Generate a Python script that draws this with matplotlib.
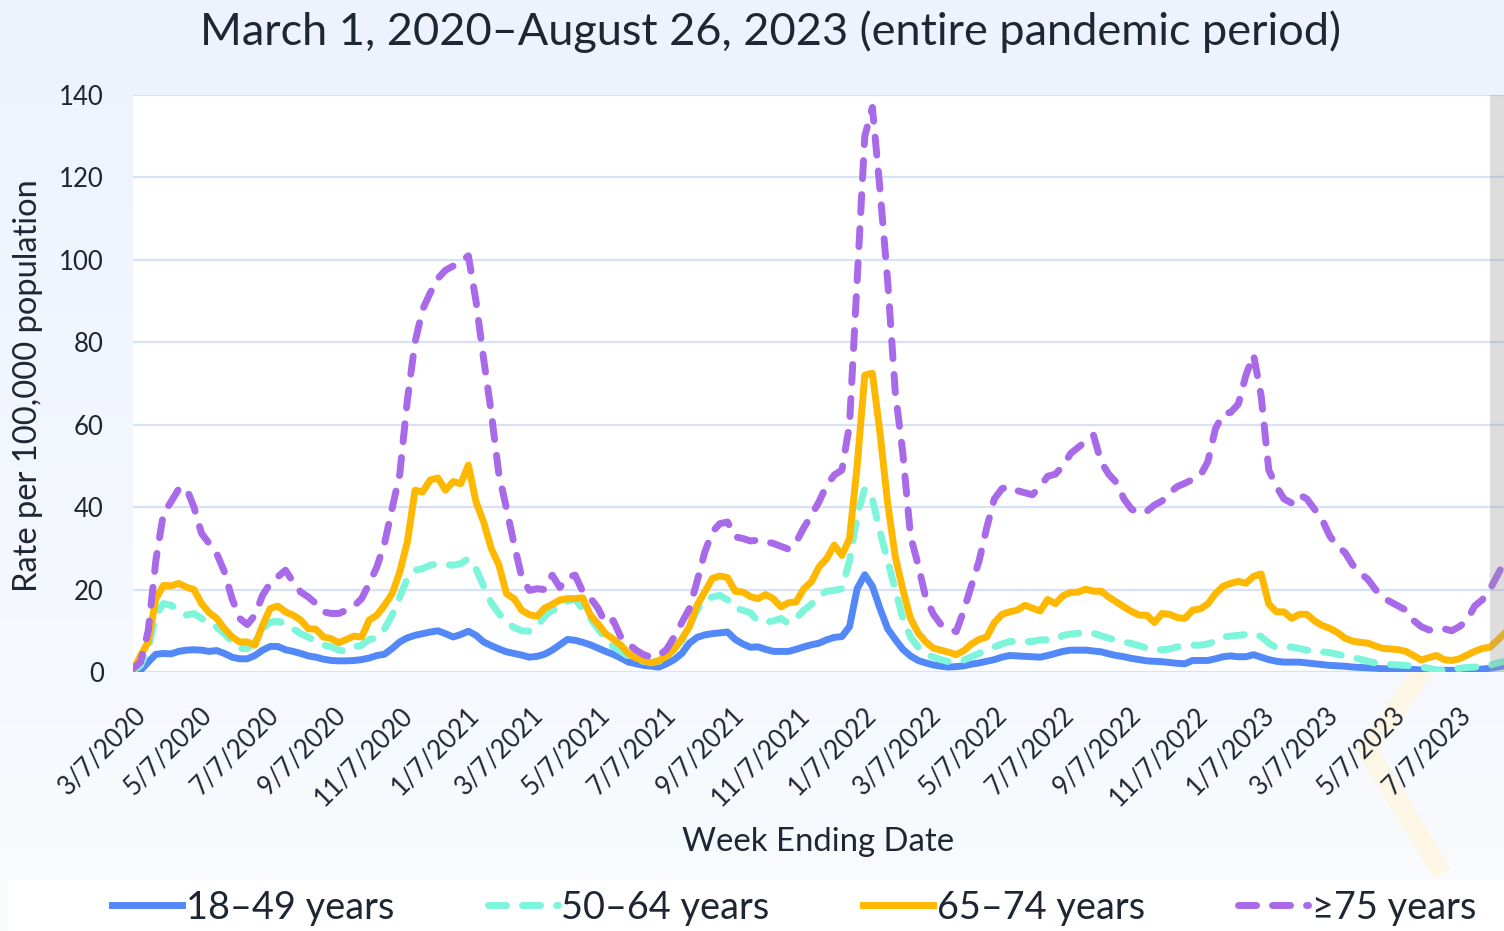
import numpy as np
import pandas as pd
import matplotlib
matplotlib.use('Agg')
import matplotlib.pyplot as plt
import matplotlib.transforms as mtransforms
from matplotlib.colors import LinearSegmentedColormap

plt.rcParams['font.family'] = ['Lato', 'DejaVu Sans']

# weekly rates per 100,000, weeks ending 3/7/2020 onwards
rate_18_49 = [
    0.0, 0.4, 2.4, 4.3, 4.5, 4.4, 5.0, 5.3, 5.4, 5.3,
    5.0, 5.2, 4.5, 3.6, 3.2, 3.2, 4.0, 5.3, 6.2, 6.2,
    5.4, 5.0, 4.5, 3.9, 3.6, 3.1, 2.8, 2.7, 2.7, 2.8,
    3.0, 3.4, 4.0, 4.3, 5.7, 7.3, 8.3, 8.9, 9.3, 9.7,
    10.0, 9.3, 8.5, 9.1, 9.9, 8.9, 7.3, 6.4, 5.6, 4.9,
    4.5, 4.1, 3.6, 3.8, 4.3, 5.3, 6.6, 7.9, 7.7, 7.2,
    6.6, 5.8, 5.0, 4.3, 3.4, 2.4, 2.0, 1.6, 1.4, 1.2,
    2.0, 3.0, 4.5, 7.0, 8.4, 9.0, 9.3, 9.5, 9.7, 7.9,
    6.8, 6.0, 6.1, 5.5, 5.0, 5.0, 5.0, 5.5, 6.1, 6.6,
    7.0, 7.8, 8.4, 8.6, 11.0, 20.2, 23.6, 20.8, 15.4, 10.5,
    7.9, 5.5, 3.9, 2.8, 2.2, 1.7, 1.4, 1.2, 1.3, 1.5,
    1.9, 2.2, 2.6, 3.0, 3.6, 4.0, 3.9, 3.8, 3.7, 3.6,
    4.0, 4.5, 5.0, 5.3, 5.3, 5.3, 5.1, 4.9, 4.4, 4.0,
    3.7, 3.3, 3.0, 2.7, 2.6, 2.5, 2.3, 2.1, 2.0, 2.8,
    2.8, 2.8, 3.2, 3.7, 3.9, 3.7, 3.7, 4.2, 3.6, 3.0,
    2.6, 2.4, 2.4, 2.4, 2.2, 2.0, 1.8, 1.6, 1.5, 1.4,
    1.2, 1.1, 1.0, 0.9, 0.8, 0.75, 0.7, 0.65, 0.6, 0.5,
    0.45, 0.4, 0.4, 0.4, 0.4, 0.5, 0.6, 0.7, 0.9, 1.2,
    1.5, 1.8,
]
rate_50_64 = [
    0.2, 1.6, 5.7, 13.8, 16.6, 16.2, 15.0, 13.8, 14.2, 13.0,
    11.7, 10.9, 9.3, 7.3, 5.7, 5.7, 7.3, 10.5, 12.1, 12.3,
    11.7, 10.5, 9.3, 8.5, 7.3, 6.5, 6.1, 5.3, 5.0, 6.1,
    6.5, 7.9, 8.3, 10.5, 13.8, 18.2, 22.7, 24.7, 25.1, 25.9,
    26.3, 26.1, 25.9, 26.3, 27.5, 25.1, 20.8, 16.8, 14.2, 12.0,
    10.8, 10.0, 9.9, 11.0, 13.5, 15.0, 15.5, 17.2, 17.8, 15.2,
    13.0, 10.5, 8.0, 6.2, 5.0, 3.8, 2.9, 2.6, 2.3, 2.6,
    4.0, 6.0, 7.5, 11.0, 15.0, 17.5, 18.2, 18.6, 17.5, 15.5,
    15.0, 14.4, 12.3, 12.1, 12.4, 13.0, 11.8, 13.0, 15.0, 16.4,
    18.5, 19.6, 19.8, 20.2, 27.0, 38.0, 44.5, 42.0, 34.0, 27.0,
    20.0, 13.0, 8.5, 6.0, 4.4, 3.6, 3.0, 2.5, 2.5, 2.9,
    3.7, 4.5, 5.4, 6.1, 6.8, 7.4, 7.4, 7.4, 7.4, 7.8,
    7.8, 7.7, 8.9, 9.2, 9.4, 9.5, 9.4, 8.8, 8.2, 7.8,
    7.3, 6.9, 6.4, 5.8, 5.4, 5.4, 5.6, 6.1, 6.3, 6.5,
    6.5, 6.8, 7.5, 8.5, 8.7, 8.9, 9.1, 9.3, 8.6, 7.0,
    5.9, 6.0, 6.1, 5.7, 5.3, 5.1, 4.9, 4.7, 4.3, 3.9,
    3.5, 3.1, 2.6, 2.2, 2.0, 1.8, 1.7, 1.6, 1.4, 1.2,
    0.9, 0.5, 0.4, 0.6, 0.9, 1.1, 1.2, 1.4, 1.6, 2.2,
    2.6, 3.0,
]
rate_65_74 = [
    0.4, 4.0, 7.3, 17.8, 21.0, 20.9, 21.5, 20.6, 20.0, 16.6,
    14.4, 13.0, 10.5, 8.5, 7.3, 7.3, 6.5, 11.3, 15.4, 16.0,
    14.6, 13.8, 12.6, 10.5, 10.4, 8.5, 8.1, 7.1, 7.9, 8.7,
    8.5, 12.6, 13.8, 16.2, 19.0, 24.3, 31.6, 44.1, 43.7, 46.6,
    47.1, 44.1, 46.2, 45.7, 50.2, 41.3, 36.4, 30.0, 26.0, 19.0,
    17.8, 15.0, 13.9, 13.5, 15.5, 16.4, 17.5, 17.8, 17.8, 18.0,
    13.8, 11.7, 9.3, 8.0, 6.5, 4.5, 3.4, 2.8, 2.2, 2.8,
    3.8, 5.5, 8.0, 11.0, 16.2, 19.4, 22.7, 23.3, 22.9, 19.6,
    19.4, 18.3, 17.8, 18.8, 17.8, 15.8, 16.8, 17.0, 20.2, 21.9,
    25.5, 27.5, 30.8, 28.3, 32.4, 50.0, 72.0, 72.5, 58.0, 41.0,
    28.0, 20.0, 13.0, 9.5, 7.3, 5.8, 5.3, 4.8, 4.2, 5.2,
    6.8, 7.9, 8.5, 12.0, 14.0, 14.6, 15.0, 16.2, 15.5, 14.8,
    17.6, 16.6, 18.5, 19.3, 19.4, 20.1, 19.6, 19.6, 18.2, 17.0,
    15.8, 14.7, 13.8, 13.8, 12.0, 14.2, 14.0, 13.2, 13.0, 15.0,
    15.3, 16.5, 19.0, 20.8, 21.5, 22.0, 21.5, 23.2, 23.8, 16.5,
    14.6, 14.6, 13.0, 14.0, 14.0, 12.4, 11.3, 10.6, 9.6, 8.2,
    7.5, 7.2, 7.0, 6.3, 5.7, 5.6, 5.4, 5.0, 4.0, 2.9,
    3.5, 4.0, 3.0, 2.8, 3.2, 4.1, 5.0, 5.7, 6.0, 7.7,
    9.5, 10.5,
]
rate_75_plus = [
    0.8, 2.4, 10.0, 27.0, 38.5, 41.3, 44.4, 44.7, 40.0, 33.6,
    31.2, 28.7, 24.3, 17.8, 13.0, 11.5, 13.8, 18.6, 21.5, 23.1,
    24.7, 21.9, 19.4, 18.2, 16.6, 14.6, 14.2, 14.2, 15.0, 16.0,
    17.8, 21.5, 25.5, 31.2, 39.7, 48.0, 66.0, 80.0, 88.0, 92.0,
    95.5, 97.5, 98.5, 99.5, 101.0, 90.0, 76.0, 63.0, 48.0, 39.7,
    31.0, 23.0, 19.8, 20.2, 20.0, 23.5, 20.5, 23.0, 23.5, 19.5,
    18.0, 15.5, 11.8, 12.5, 8.5, 6.8, 5.3, 4.2, 3.6, 4.0,
    5.5, 8.5, 12.0, 15.4, 22.0, 29.0, 34.0, 36.0, 36.4, 32.8,
    32.4, 31.8, 32.0, 31.6, 31.2, 30.5, 29.8, 31.5, 35.0, 38.0,
    41.3, 45.3, 47.8, 49.0, 60.0, 95.0, 130.0, 137.0, 117.0, 95.0,
    68.0, 53.0, 33.0, 26.0, 18.0, 14.0, 11.5, 10.5, 9.8, 15.0,
    21.0, 27.0, 35.0, 42.0, 44.5, 45.0, 44.0, 43.5, 43.0, 45.0,
    47.5, 48.0, 50.0, 53.0, 54.5, 56.0, 57.5, 51.0, 48.0, 46.0,
    42.0, 39.5, 38.5, 39.0, 40.5, 41.5, 43.5, 45.0, 45.8, 46.7,
    47.6, 51.0, 59.0, 62.6, 63.0, 65.0, 72.0, 77.0, 67.0, 49.0,
    45.0, 42.0, 41.0, 43.0, 42.0, 39.5, 37.0, 33.0, 30.5, 29.0,
    26.0, 24.0, 22.5, 20.0, 18.0, 17.0, 16.0, 15.0, 12.5, 11.0,
    10.2, 10.2, 10.5, 10.0, 11.0, 12.5, 16.0, 17.5, 20.0, 23.5,
    27.0, 30.0,
]

series_names = ['18\u201349 years', '50\u201364 years', '65\u201374 years', '\u226575 years']
series_colors = ['#5288f7', '#7df5da', '#ffb800', '#a86ae9']

tick_labels = ['3/7/2020', '5/7/2020', '7/7/2020', '9/7/2020', '11/7/2020',
               '1/7/2021', '3/7/2021', '5/7/2021', '7/7/2021', '9/7/2021', '11/7/2021',
               '1/7/2022', '3/7/2022', '5/7/2022', '7/7/2022', '9/7/2022', '11/7/2022',
               '1/7/2023', '3/7/2023', '5/7/2023', '7/7/2023']

weeks = pd.date_range('2020-03-07', periods=len(rate_18_49), freq='7D')
tick_dates = pd.to_datetime(tick_labels, format='%m/%d/%Y')

fig = plt.figure(figsize=(15.04, 9.31), dpi=100)

# background: light blue fading downwards, white strip behind legend
bg = fig.add_axes([0, 0, 1, 1], zorder=-10)
cmap = LinearSegmentedColormap.from_list('bg', ['#edf2fd', '#f9fbfe'])
bg.imshow(np.linspace(0, 1, 256).reshape(-1, 1), aspect='auto', cmap=cmap,
          extent=[0, 1, 0, 1])
bg.add_patch(plt.Rectangle((0.005, 0), 0.995, 0.055, color='white', zorder=3))
bg.plot([0.9465, 0.909, 0.959], [0.28, 0.195, 0.062], color='#fdf6e4',
        lw=14, solid_capstyle='butt', zorder=2)
bg.set_xlim(0, 1)
bg.set_ylim(0, 1)
bg.axis('off')

ax = fig.add_axes([0.0884, 0.2782, 0.9116, 0.6197])
ax.set_facecolor('white')

lw = 5
ax.plot(weeks, rate_18_49, color=series_colors[0], lw=lw, solid_joinstyle='round',
        label=series_names[0], zorder=3)
ax.plot(weeks, rate_50_64, color=series_colors[1], lw=lw, dashes=(2.6, 2.3),
        dash_capstyle='round', label=series_names[1], zorder=4)
ax.plot(weeks, rate_65_74, color=series_colors[2], lw=lw, solid_joinstyle='round',
        label=series_names[2], zorder=5)
ax.plot(weeks, rate_75_plus, color=series_colors[3], lw=lw, dashes=(2.6, 2.3),
        dash_capstyle='round', label=series_names[3], zorder=6)

x_start = pd.Timestamp('2020-03-07')
ax.set_xlim(x_start, x_start + pd.Timedelta(days=1259))
ax.set_ylim(0, 140)

# recent weeks still being reported
ax.axvspan(pd.Timestamp('2023-08-05'), x_start + pd.Timedelta(days=1270),
           color='#9a9a9a', alpha=0.33, lw=0, zorder=7)

ax.set_yticks(range(0, 141, 20))
ax.grid(axis='y', color='#d7e2f6', lw=1.6)
ax.set_axisbelow(True)
for s in ax.spines.values():
    s.set_visible(False)
ax.tick_params(length=0, labelsize=18.5, colors='#1f2633')
ax.tick_params(axis='y', pad=21)

ax.set_xticks(tick_dates)
ax.set_xticklabels(tick_labels)
offset = mtransforms.ScaledTranslation(6 / 100, 0, fig.dpi_scale_trans)
for lab in ax.get_xticklabels():
    lab.set_rotation(45)
    lab.set_ha('right')
    lab.set_rotation_mode('anchor')
    lab.set_transform(lab.get_transform() + offset)
ax.tick_params(axis='x', pad=22)

ax.set_xlabel('Week Ending Date', fontsize=23.7, color='#1f2633', labelpad=12)
fig.text(0.0186, 0.586, 'Rate per 100,000 population', rotation=90, fontsize=23.5,
         color='#1f2633', ha='center', va='center')
fig.text(0.512, 0.966, 'March 1, 2020\u2013August 26, 2023 (entire pandemic period)',
         fontsize=32.5, color='#1f2633', ha='center', va='center')

fig.legend(loc='center', bbox_to_anchor=(0.528, 0.025), ncol=4, frameon=False,
           fontsize=27.3, handlelength=1.85, handletextpad=0.1, columnspacing=2.45,
           labelcolor='#1f2633')

fig.savefig('out.png', dpi=100)
